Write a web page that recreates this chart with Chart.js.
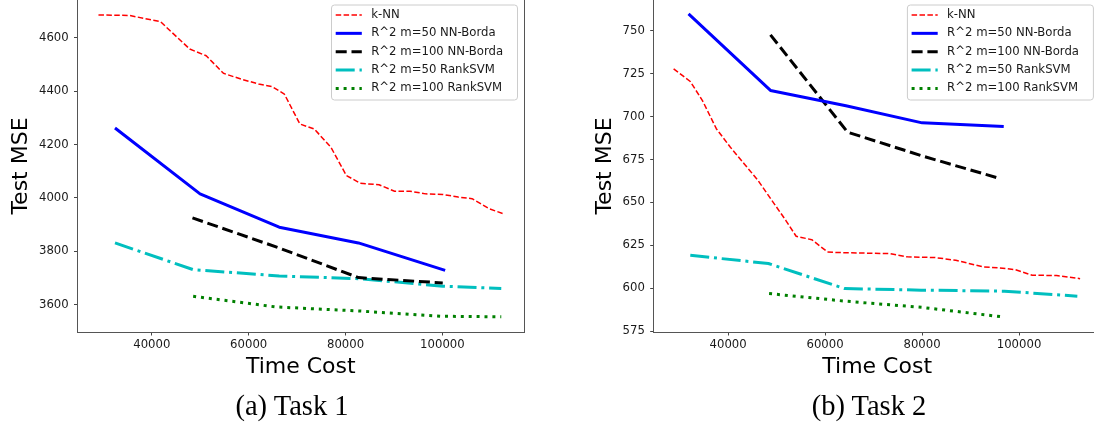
<!DOCTYPE html>
<html>
<head>
<meta charset="utf-8">
<script src="https://cdn.jsdelivr.net/npm/chart.js@4/dist/chart.umd.min.js"></script>
<style>
  html, body { margin: 0; padding: 0; background: #ffffff; width: 1094px; height: 432px; overflow: hidden; }
  #wrap { position: relative; width: 1094px; height: 432px; overflow: hidden; }
  canvas { position: absolute; top: 0; }
  #c1 { left: 0; }
  #c2 { left: 547px; }
  .cap { position: absolute; top: 392px; width: 300px; text-align: center; font-family: "Liberation Serif", serif; font-size: 28.5px; line-height: 28px; color: #000; white-space: nowrap; }
</style>
</head>
<body>
<div id="wrap">
  <canvas id="c1" width="547" height="432"></canvas>
  <canvas id="c2" width="560" height="432"></canvas>
  <div class="cap" style="left:142px">(a) Task 1</div>
  <div class="cap" style="left:719px">(b) Task 2</div>
</div>
<script>
// ---------- data ----------
const seriesLabels = ["k-NN", "R^2 m=50 NN-Borda", "R^2 m=100 NN-Borda", "R^2 m=50 RankSVM", "R^2 m=100 RankSVM"];
const xTicks = [40000, 60000, 80000, 100000];
const yTicks1 = [3600, 3800, 4000, 4200, 4400, 4600];
const yTicks2 = [575, 600, 625, 650, 675, 700, 725, 750];
const xTitle = "Time Cost";
const yTitle = "Test MSE";

// Task 1
const t1KnnX = [28981, 35379, 41777, 47820, 51232, 54787, 58483, 62038, 64882, 67370, 70569, 73554, 76967, 80166, 83009, 86919, 90118, 93318, 96517, 100071, 103270, 106114, 109668, 112654];
const t1KnnY = [4686, 4684, 4661, 4558, 4533, 4467, 4445, 4427, 4417, 4389, 4277, 4258, 4190, 4084, 4055, 4049, 4025, 4025, 4015, 4013, 4003, 3997, 3959, 3940];
const t1B50X = [32393, 49953, 66303, 82654, 100569];
const t1B50Y = [4262, 4015, 3890, 3831, 3728];
const t1B100X = [48389, 66303, 82654, 100071];
const t1B100Y = [3925, 3812, 3701, 3681];
const t1S50X = [32393, 48531, 66303, 82654, 100071, 112156];
const t1S50Y = [3831, 3731, 3707, 3697, 3669, 3660];
const t1S100X = [48531, 65592, 82654, 99716, 112156];
const t1S100Y = [3631, 3591, 3576, 3556, 3554];

// Task 2
const t2KnnX = [28759, 32196, 34702, 37566, 40430, 43294, 46158, 49022, 51886, 54034, 57256, 60478, 62626, 73366, 76946, 82674, 86970, 92698, 95562, 99142, 102722, 107734, 112602];
const t2KnnY = [727.9, 720.5, 709.4, 693.0, 682.3, 672.6, 662.9, 651.2, 639.6, 630.3, 628.3, 621.2, 620.8, 620.2, 618.3, 617.9, 616.3, 612.4, 611.9, 610.9, 607.6, 607.4, 605.6];
const t2B50X = [31838, 48735, 64300, 80024, 96850];
const t2B50Y = [759.9, 715.3, 706.4, 696.4, 694.3];
const t2B100X = [48735, 64630, 80168, 96135];
const t2B100Y = [747.7, 691.0, 677.0, 663.9];
const t2S50X = [32196, 48306, 64058, 79810, 96994, 112030];
const t2S50Y = [619.2, 614.4, 599.8, 598.9, 598.3, 595.4];
const t2S100X = [48449, 64058, 80168, 96635];
const t2S100Y = [596.9, 592.5, 588.8, 583.3];

// ---------- helpers ----------
const pts = (xs, ys) => xs.map((x, i) => ({ x: x, y: ys[i] }));
const styles = [
  { borderColor: '#ff0000', borderWidth: 1.5, borderDash: [5.5, 2.4] },
  { borderColor: '#0000ff', borderWidth: 3, borderDash: [] },
  { borderColor: '#000000', borderWidth: 3, borderDash: [11, 4.8] },
  { borderColor: '#00bfbf', borderWidth: 3, borderDash: [19, 4.8, 3, 4.8] },
  { borderColor: '#008000', borderWidth: 3, borderDash: [3, 4.9] }
];
function makeDatasets(series) {
  return series.map((s, i) => Object.assign({
    label: seriesLabels[i],
    data: pts(s[0], s[1]),
    showLine: true,
    fill: false,
    tension: 0,
    pointRadius: 0,
    pointHoverRadius: 0,
    borderCapStyle: 'butt',
    borderJoinStyle: 'round'
  }, styles[i]));
}

const FONT = '"DejaVu Sans", sans-serif';

const mplLegend = {
  id: 'mplLegend',
  afterDatasetsDraw(chart, args, opts) {
    const { ctx, chartArea: a } = chart;
    const w = 186, h = 95;
    const bx = a.right - opts.inset - w, by = a.top + 5;
    ctx.save();
    ctx.beginPath();
    const r = 3;
    ctx.moveTo(bx + r, by);
    ctx.lineTo(bx + w - r, by); ctx.arcTo(bx + w, by, bx + w, by + r, r);
    ctx.lineTo(bx + w, by + h - r); ctx.arcTo(bx + w, by + h, bx + w - r, by + h, r);
    ctx.lineTo(bx + r, by + h); ctx.arcTo(bx, by + h, bx, by + h - r, r);
    ctx.lineTo(bx, by + r); ctx.arcTo(bx, by, bx + r, by, r);
    ctx.closePath();
    ctx.fillStyle = 'rgba(255,255,255,0.8)';
    ctx.fill();
    ctx.strokeStyle = '#cccccc';
    ctx.lineWidth = 1;
    ctx.stroke();
    chart.data.datasets.forEach((ds, i) => {
      const y = by + 10 + i * 18.35;
      ctx.beginPath();
      ctx.strokeStyle = ds.borderColor;
      ctx.lineWidth = ds.borderWidth;
      ctx.lineCap = 'butt';
      ctx.setLineDash(ds.borderDash || []);
      ctx.moveTo(bx + 4.2, y);
      ctx.lineTo(bx + 30.3, y);
      ctx.stroke();
      ctx.setLineDash([]);
      ctx.fillStyle = '#1a1a1a';
      ctx.font = '11.7px ' + FONT;
      ctx.textAlign = 'left';
      ctx.textBaseline = 'middle';
      ctx.fillText(ds.label, bx + 39.7, y);
    });
    ctx.restore();
  },
  afterDraw(chart, args, opts) {
    if (!opts.rightSpine) return;
    const { ctx, chartArea: a } = chart;
    ctx.save();
    ctx.strokeStyle = '#555555';
    ctx.lineWidth = 1;
    ctx.beginPath();
    const x = Math.round(a.right) + 0.5;
    ctx.moveTo(x, a.top);
    ctx.lineTo(x, a.bottom + 0.5);
    ctx.stroke();
    ctx.restore();
  }
};

function makeChart(id, series, yTicks, xr, yr, yAxisWidth, padRight, yTitlePad, rightSpine, inset) {
  return new Chart(document.getElementById(id), {
    type: 'scatter',
    data: { datasets: makeDatasets(series) },
    options: {
      responsive: false,
      animation: false,
      events: [],
      layout: { padding: { left: 0, right: padRight, top: 0, bottom: 0 } },
      plugins: { legend: { display: false }, tooltip: { enabled: false }, mplLegend: { rightSpine: rightSpine, inset: inset } },
      scales: {
        x: {
          type: 'linear',
          min: xr[0], max: xr[1],
          afterBuildTicks: s => { s.ticks = xTicks.map(v => ({ value: v })); },
          afterFit: s => { s.height = 100; s.paddingLeft = 0; s.paddingRight = 0; },
          ticks: {
            callback: v => String(v),
            font: { family: FONT, size: 11.7 },
            color: '#1a1a1a',
            padding: 2.8,
            maxRotation: 0,
            autoSkip: false
          },
          grid: { display: true, drawOnChartArea: false, drawTicks: true, tickLength: 3.5, tickColor: '#444444', tickWidth: 1 },
          border: { display: true, color: '#555555', width: 1 },
          title: { display: true, text: xTitle, font: { family: FONT, size: 22 }, color: '#000000', padding: { top: 0, bottom: 52 } }
        },
        y: {
          type: 'linear',
          min: yr[0], max: yr[1],
          afterBuildTicks: s => { s.ticks = yTicks.map(v => ({ value: v })); },
          afterFit: s => { s.width = yAxisWidth; s.paddingTop = 0; s.paddingBottom = 0; },
          ticks: {
            callback: v => String(v),
            font: { family: FONT, size: 11.7 },
            color: '#1a1a1a',
            padding: 5.3,
            autoSkip: false
          },
          grid: { display: true, drawOnChartArea: false, drawTicks: true, tickLength: 3.5, tickColor: '#444444', tickWidth: 1 },
          border: { display: true, color: '#555555', width: 1 },
          title: { display: true, text: yTitle, font: { family: FONT, size: 22 }, color: '#000000', padding: { top: yTitlePad, bottom: 0 } }
        }
      }
    },
    plugins: [mplLegend]
  });
}

makeChart('c1',
  [[t1KnnX, t1KnnY], [t1B50X, t1B50Y], [t1B100X, t1B100Y], [t1S50X, t1S50Y], [t1S100X, t1S100Y]],
  yTicks1, [24650, 116850], [3497, 4742], 77.5, 23, 8.5, true, 6.5);
makeChart('c2',
  [[t2KnnX, t2KnnY], [t2B50X, t2B50Y], [t2B100X, t2B100Y], [t2S50X, t2S50Y], [t2S100X, t2S100Y]],
  yTicks2, [24650, 116830], [574.5, 768], 106.7, 6.4, 44.8, false, 7.2);
</script>
</body>
</html>
